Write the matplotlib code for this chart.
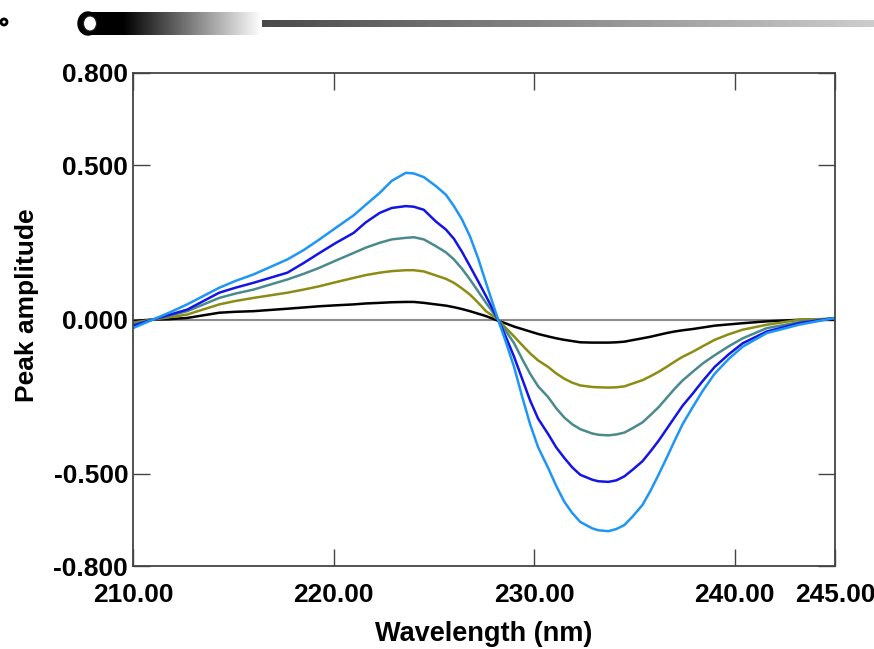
import numpy as np
import matplotlib.pyplot as plt
from matplotlib.patches import Ellipse

wavelength = [210.0, 211.0, 211.8, 212.7, 214.3, 215.1, 216.0, 217.7, 218.5, 219.3,
              220.1, 221.0, 221.6, 222.3, 222.9, 223.6, 224.0, 224.5, 225.1, 225.6,
              226.0, 226.4, 226.8, 227.2, 227.6, 228.2, 228.6, 229.0, 229.4, 229.8,
              230.2, 230.7, 231.1, 231.5, 231.9, 232.3, 232.9, 233.2, 233.7, 234.1,
              234.5, 234.9, 235.4, 235.8, 236.2, 236.6, 237.0, 237.4, 237.9, 238.4,
              239.0, 239.7, 240.4, 241.6, 243.2, 245.0]

light_blue = [-0.028, 0.000, 0.022, 0.049, 0.103, 0.125, 0.146, 0.195, 0.225, 0.260,
              0.297, 0.338, 0.372, 0.411, 0.450, 0.476, 0.474, 0.462, 0.433, 0.405,
              0.368, 0.325, 0.270, 0.200, 0.119, 0.000, -0.075, -0.154, -0.250, -0.340,
              -0.415, -0.482, -0.540, -0.591, -0.628, -0.657, -0.678, -0.684, -0.687, -0.680,
              -0.667, -0.640, -0.602, -0.556, -0.504, -0.450, -0.394, -0.340, -0.285, -0.232,
              -0.176, -0.128, -0.088, -0.044, -0.017, 0.005]
blue = [-0.020, 0.000, 0.015, 0.032, 0.087, 0.103, 0.119, 0.152, 0.183, 0.216,
        0.248, 0.281, 0.315, 0.346, 0.362, 0.368, 0.366, 0.356, 0.318, 0.292,
        0.262, 0.220, 0.173, 0.125, 0.076, 0.000, -0.058, -0.121, -0.192, -0.263,
        -0.322, -0.372, -0.415, -0.449, -0.480, -0.504, -0.520, -0.525, -0.527, -0.522,
        -0.509, -0.488, -0.460, -0.428, -0.394, -0.356, -0.318, -0.280, -0.241, -0.200,
        -0.154, -0.113, -0.077, -0.039, -0.012, 0.005]
teal = [-0.015, 0.000, 0.012, 0.027, 0.070, 0.084, 0.097, 0.130, 0.148, 0.168,
        0.191, 0.216, 0.233, 0.249, 0.260, 0.265, 0.267, 0.260, 0.238, 0.218,
        0.195, 0.165, 0.130, 0.092, 0.054, 0.000, -0.038, -0.077, -0.128, -0.176,
        -0.217, -0.252, -0.288, -0.318, -0.340, -0.356, -0.370, -0.374, -0.376, -0.373,
        -0.367, -0.353, -0.334, -0.310, -0.285, -0.255, -0.225, -0.198, -0.170, -0.143,
        -0.116, -0.087, -0.061, -0.028, -0.009, 0.005]
olive = [-0.010, 0.000, 0.007, 0.016, 0.049, 0.060, 0.070, 0.087, 0.097, 0.108,
         0.121, 0.135, 0.144, 0.152, 0.157, 0.160, 0.160, 0.156, 0.143, 0.132,
         0.119, 0.101, 0.081, 0.055, 0.027, 0.000, -0.028, -0.055, -0.083, -0.110,
         -0.133, -0.154, -0.175, -0.192, -0.205, -0.214, -0.219, -0.220, -0.221, -0.220,
         -0.217, -0.208, -0.197, -0.184, -0.170, -0.154, -0.137, -0.121, -0.105, -0.087,
         -0.066, -0.048, -0.033, -0.017, -0.001, 0.003]
black = [-0.005, 0.000, 0.001, 0.005, 0.022, 0.025, 0.027, 0.035, 0.039, 0.043,
         0.046, 0.049, 0.052, 0.054, 0.056, 0.057, 0.057, 0.054, 0.049, 0.045,
         0.040, 0.034, 0.027, 0.019, 0.011, -0.004, -0.013, -0.023, -0.031, -0.039,
         -0.047, -0.055, -0.061, -0.066, -0.070, -0.074, -0.075, -0.075, -0.075, -0.074,
         -0.072, -0.067, -0.061, -0.056, -0.050, -0.044, -0.039, -0.035, -0.031, -0.026,
         -0.020, -0.016, -0.012, -0.006, -0.001, 0.000]

xticks = [210, 220, 230, 240, 245]
xtick_labels = ['210.00', '220.00', '230.00', '240.00', '245.00']
yticks = [-0.8, -0.5, 0.0, 0.5, 0.8]
ytick_labels = ['-0.800', '-0.500', '0.000', '0.500', '0.800']

plt.rcParams['font.family'] = ['Liberation Sans', 'DejaVu Sans']

W, H = 874, 649
fig = plt.figure(figsize=(W / 100, H / 100), dpi=100)
ax = fig.add_axes([133 / W, 1 - 566 / H, (835 - 133) / W, (566 - 73) / H])

ax.axhline(0, color='#8c8c8c', lw=1.5, zorder=1)
series = [(black, 'black'), (olive, '#8c8c14'), (teal, '#4a8a8c'),
          (blue, '#1414e6'), (light_blue, '#1e96f5')]
for vals, col in series:
    ax.plot(wavelength, vals, color=col, lw=1.8, zorder=2)

ax.set_xlim(210, 245)
ax.set_ylim(-0.8, 0.8)
ax.set_xticks(xticks)
ax.set_xticklabels(xtick_labels)
ax.set_yticks(yticks)
ax.set_yticklabels(ytick_labels)
ax.tick_params(direction='in', length=12, width=1, color='#444444',
               top=True, right=True, labelsize=19)
ax.tick_params(axis='x', pad=12)
ax.tick_params(axis='y', pad=3.5)
for lab in ax.get_xticklabels() + ax.get_yticklabels():
    lab.set_fontweight('bold')
for sp in ax.spines.values():
    sp.set_color('#444444')
    sp.set_linewidth(1.3)

fig.text(484 / W, 1 - 647 / H, 'Wavelength (nm)', ha='center', va='bottom',
         fontsize=19.5, fontweight='bold')
fig.text(27 / W, 1 - 305 / H, 'Peak amplitude', ha='center', va='center',
         rotation=90, fontsize=19, fontweight='bold')

# slide header decoration
hax = fig.add_axes([0, 0, 1, 1], zorder=5)
hax.set_xlim(0, W)
hax.set_ylim(H, 0)
hax.axis('off')
grad = np.linspace(0, 1, 256).reshape(1, -1)
hax.imshow(np.linspace(0.15, 0.8, 256).reshape(1, -1), cmap='gray', vmin=0, vmax=1,
           extent=(95, W, 27, 20), aspect='auto', interpolation='bilinear')
thick = np.clip((grad - 0.2) / 0.8, 0, 1)
hax.imshow(thick, cmap='gray', vmin=0, vmax=1, extent=(88, 262, 35, 12),
           aspect='auto', interpolation='bilinear')
hax.add_patch(Ellipse((88, 23.5), 20, 23, color='black'))
hax.add_patch(Ellipse((90, 23.5), 13, 15, facecolor='white', edgecolor='#222222', lw=0.8))
hax.add_patch(Ellipse((4, 22), 6, 6, facecolor='white', edgecolor='black', lw=2))

fig.savefig('out.png', dpi=100)
